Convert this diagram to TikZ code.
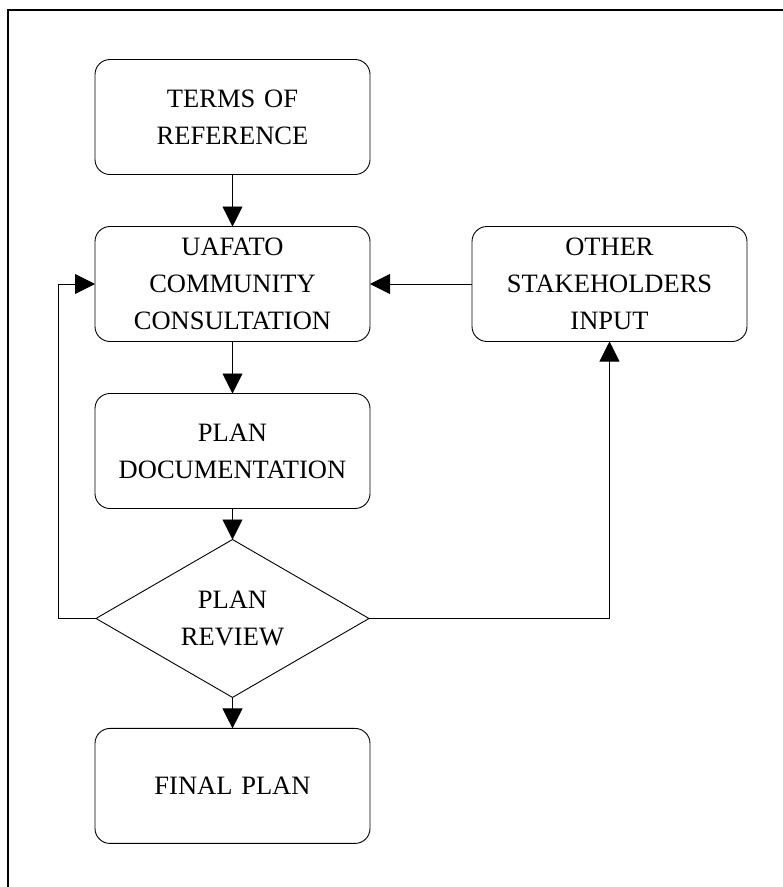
\documentclass[tikz,border=0pt]{standalone}
\usepackage{fontspec}
\setmainfont{Liberation Serif}
\usetikzlibrary{shapes.geometric, arrows.meta, positioning}
\tikzset{
  plan box/.style={
    rectangle, rounded corners=15pt, draw=black, line width=0.9pt,
    minimum width=275pt, minimum height=115pt,
    text width=268pt, align=center,
    font=\fontsize{26.5}{37}\selectfont,
    inner sep=0pt, outer sep=0pt
  },
  plan decision/.style={
    diamond, draw=black, line width=0.9pt,
    minimum width=273pt, minimum height=157pt,
    align=center, font=\fontsize{26.5}{37}\selectfont,
    inner sep=0pt, outer sep=0pt
  },
  plan arrow/.style={
    -{Triangle[width=20pt,length=20pt]}, line width=0.9pt, draw=black
  }
}

\begin{document}
\begin{tikzpicture}[x=1pt, y=-1pt, node distance=52pt and 102pt]
  \useasboundingbox (0,0) rectangle (783,887);
  % frame
  \draw [line width=2pt] (8,890) -- (8,10) -- (786,10);
  % main column
  \node (terms) [plan box] at (232.5,117) {TERMS OF\\REFERENCE};
  \node (consult) [plan box, below=of terms] {UAFATO\\COMMUNITY\\CONSULTATION};
  \node (others) [plan box, right=of consult] {OTHER\\STAKEHOLDERS\\INPUT};
  \node (doc) [plan box, below=of consult] {PLAN\\DOCUMENTATION};
  \node (review) [plan decision, below=31pt of doc] {PLAN\\REVIEW};
  \node (final) [plan box, below=31pt of review] {FINAL PLAN};

  \draw [plan arrow] (terms) -- (consult);
  \draw [plan arrow] (consult) -- (doc);
  \draw [plan arrow] (doc) -- (review);
  \draw [plan arrow] (review) -- (final);
  \draw [plan arrow] (others) -- (consult);
  \draw [plan arrow] (review.east) -| (others.south);
  \draw [plan arrow] (review.west) -- ++(-38,0) |- (consult.west);
\end{tikzpicture}
\end{document}
